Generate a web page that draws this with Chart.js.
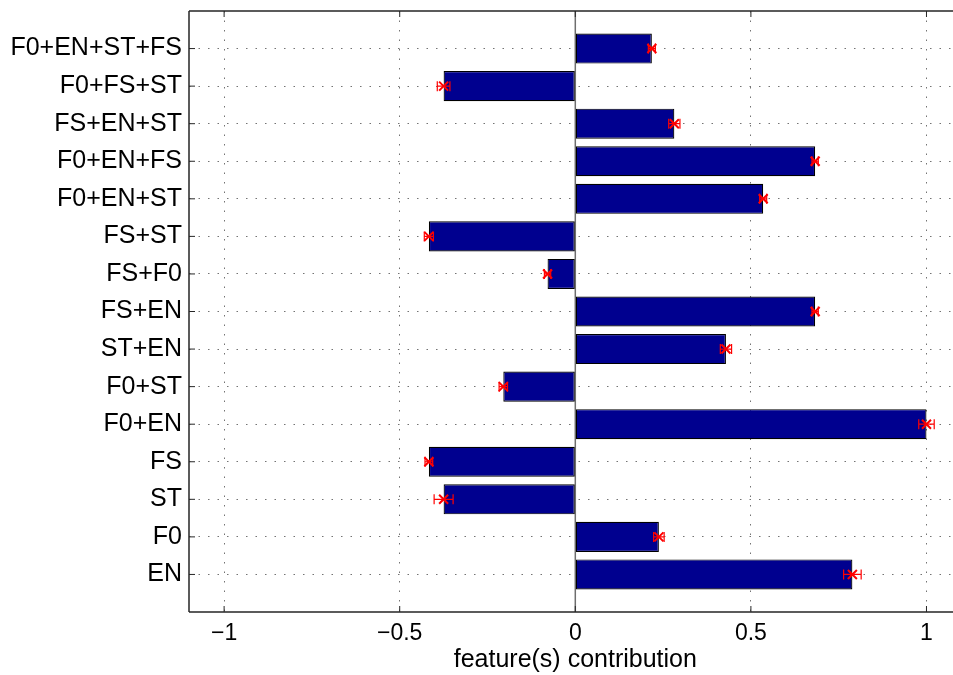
<!DOCTYPE html>
<html>
<head>
<meta charset="utf-8">
<script src="https://cdn.jsdelivr.net/npm/chart.js@4/dist/chart.umd.min.js"></script>
<style>
  html, body { margin: 0; padding: 0; background: #fff; overflow: hidden; width: 953px; height: 675px; }
  #wrap { width: 970px; height: 675px; }
</style>
</head>
<body>
<div id="wrap"><canvas id="c" width="970" height="675"></canvas></div>
<script>
// categories listed bottom to top
const categories = ["EN", "F0", "ST", "FS", "F0+EN", "F0+ST", "ST+EN", "FS+EN", "FS+F0", "FS+ST",
                    "F0+EN+ST", "F0+EN+FS", "FS+EN+ST", "F0+FS+ST", "F0+EN+ST+FS"];
const contributions = [0.789, 0.238, -0.375, -0.417, 1.0, -0.205, 0.429, 0.683, -0.079, -0.417,
                       0.535, 0.683, 0.282, -0.375, 0.218];
const errors = [0.025, 0.015, 0.027, 0.011, 0.022, 0.012, 0.016, 0.009, 0.009, 0.013,
                0.010, 0.009, 0.016, 0.018, 0.010];
const xTicks = [-1, -0.5, 0, 0.5, 1];
const positions = categories.map((_, i) => i + 1);

const FONT = "'Liberation Sans', Arial, Helvetica, sans-serif";

const extras = {
  id: 'extras',
  beforeDatasetsDraw(chart) {
    const {ctx, chartArea: a, scales: {x}} = chart;
    ctx.save();
    const x0 = x.getPixelForValue(0);
    ctx.strokeStyle = '#6e6e6e';
    ctx.lineWidth = 1.5;
    ctx.beginPath(); ctx.moveTo(x0, a.top); ctx.lineTo(x0, a.bottom); ctx.stroke();
    ctx.restore();
  },
  afterDatasetsDraw(chart) {
    const {ctx, chartArea: a, scales: {x, y}} = chart;
    ctx.save();
    ctx.strokeStyle = '#ff0000';
    contributions.forEach((v, i) => {
      const py = y.getPixelForValue(positions[i]);
      const xl = x.getPixelForValue(v - errors[i]);
      const xr = x.getPixelForValue(v + errors[i]);
      const xc = x.getPixelForValue(v);
      const cap = 5;
      ctx.lineWidth = 1.2;
      ctx.beginPath();
      ctx.moveTo(xl, py); ctx.lineTo(xr, py);
      ctx.moveTo(xl, py - cap); ctx.lineTo(xl, py + cap);
      ctx.moveTo(xr, py - cap); ctx.lineTo(xr, py + cap);
      ctx.stroke();
      const m = 4.5;
      ctx.lineWidth = 2;
      ctx.beginPath();
      ctx.moveTo(xc - m, py - m); ctx.lineTo(xc + m, py + m);
      ctx.moveTo(xc - m, py + m); ctx.lineTo(xc + m, py - m);
      ctx.stroke();
    });
    ctx.strokeStyle = '#262626';
    ctx.lineWidth = 1.5;
    ctx.beginPath();
    ctx.moveTo(a.left, a.top); ctx.lineTo(a.right + 20, a.top);
    ctx.moveTo(a.left, a.top); ctx.lineTo(a.left, a.bottom);
    ctx.moveTo(a.left, a.bottom); ctx.lineTo(a.right + 20, a.bottom);
    ctx.stroke();
    ctx.lineWidth = 1;
    ctx.beginPath();
    xTicks.forEach(t => {
      const px = x.getPixelForValue(t);
      ctx.moveTo(px, a.bottom); ctx.lineTo(px, a.bottom - 6);
      ctx.moveTo(px, a.top); ctx.lineTo(px, a.top + 6);
    });
    positions.forEach(p => {
      const py = y.getPixelForValue(p);
      ctx.moveTo(a.left, py); ctx.lineTo(a.left + 6, py);
    });
    ctx.stroke();
    ctx.restore();
  }
};

new Chart(document.getElementById('c'), {
  type: 'bar',
  data: {
    datasets: [{
      data: positions.map((p, i) => ({x: contributions[i], y: p})),
      backgroundColor: '#00008f',
      borderColor: '#000000',
      borderWidth: 1.2,
      borderSkipped: false,
      barPercentage: 0.8,
      categoryPercentage: 1.0
    }]
  },
  options: {
    indexAxis: 'y',
    responsive: false,
    animation: false,
    devicePixelRatio: 1,
    layout: { padding: { left: 0, right: 8.4, top: 11, bottom: 0 } },
    plugins: { legend: { display: false }, tooltip: { enabled: false } },
    scales: {
      x: {
        type: 'linear',
        min: -1.1, max: 1.1,
        afterBuildTicks: s => { s.ticks = xTicks.map(v => ({value: v})); },
        afterFit: s => { s.height = 63; s.paddingLeft = 0; s.paddingRight = 0; },
        ticks: {
          color: '#000',
          font: { family: FONT, size: 23 },
          padding: 8,
          callback: v => (v < 0 ? '\u2212' + Math.abs(v) : String(v))
        },
        grid: {
          drawTicks: false,
          color: ctx => (ctx.tick && ctx.tick.value === 0 ? 'rgba(0,0,0,0)' : 'rgba(0,0,0,0.55)'),
          lineWidth: 1
        },
        border: { display: false, dash: [1.5, 8] },
        title: {
          display: true,
          text: 'feature(s) contribution',
          color: '#000',
          font: { family: FONT, size: 25 },
          padding: { top: 0, bottom: 0 }
        }
      },
      y: {
        type: 'linear',
        min: 0, max: 16,
        offset: false,
        afterBuildTicks: s => { s.ticks = positions.map(v => ({value: v})); },
        afterFit: s => { s.width = 189; s.paddingTop = 0; s.paddingBottom = 0; },
        ticks: {
          autoSkip: false,
          color: '#000',
          font: { family: FONT, size: 25 },
          padding: 7,
          callback: v => categories[v - 1] || ''
        },
        grid: {
          offset: false,
          drawTicks: false,
          color: 'rgba(0,0,0,0.55)',
          lineWidth: 1
        },
        border: { display: false, dash: [1.5, 8] }
      }
    }
  },
  plugins: [extras]
});
</script>
</body>
</html>
